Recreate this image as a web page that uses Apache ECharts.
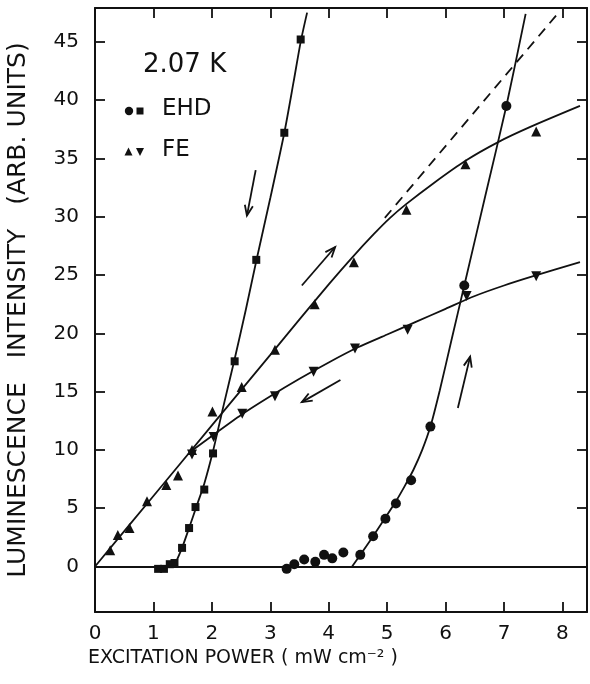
<!DOCTYPE html>
<html>
<head>
<meta charset="utf-8">
<script src="https://cdn.jsdelivr.net/npm/echarts@6/dist/echarts.min.js"></script>
<style>
html,body{margin:0;padding:0;background:#fff;}
#chart{width:590px;height:684px;}
</style>
</head>
<body>
<div id="chart"></div>
<script>
// ---- data ----
const xTicks = [0, 1, 2, 3, 4, 5, 6, 7, 8];
const yTicks = [0, 5, 10, 15, 20, 25, 30, 35, 40, 45];

// EHD, increasing power (circles)
const ehdUpPoints = [[3.28,-0.2],[3.41,0.2],[3.58,0.6],[3.77,0.4],[3.92,1.0],[4.06,0.7],[4.25,1.2],[4.54,1.0],[4.76,2.6],[4.97,4.1],[5.15,5.4],[5.41,7.4],[5.74,12.0],[6.32,24.1],[7.04,39.5]];
const ehdUpCurve = [[4.40,0],[4.54,1.0],[4.76,2.6],[4.97,4.2],[5.15,5.6],[5.30,6.9],[5.45,8.3],[5.60,10.0],[5.74,12.0],[5.90,15.1],[6.10,19.4],[6.32,24.1],[6.68,31.8],[7.04,39.5],[7.37,47.4]];

// EHD, decreasing power (squares)
const ehdDownPoints = [[1.08,-0.2],[1.18,-0.2],[1.28,0.2],[1.36,0.3],[1.49,1.6],[1.61,3.3],[1.72,5.1],[1.87,6.6],[2.02,9.7],[2.39,17.6],[2.76,26.3],[3.24,37.2],[3.52,45.2]];
const ehdDownCurve = [[1.37,0.2],[1.49,1.6],[1.61,3.3],[1.74,5.2],[1.87,7.1],[2.02,9.9],[2.20,13.8],[2.39,17.8],[2.58,22.0],[2.76,26.2],[3.00,31.6],[3.24,37.2],[3.40,41.6],[3.52,45.0],[3.63,47.5]];

// FE, increasing power (up triangles)
const feUpPoints = [[0.26,1.4],[0.39,2.7],[0.59,3.3],[0.89,5.6],[1.22,7.0],[1.42,7.8],[1.66,10.0],[2.01,13.3],[2.51,15.4],[3.08,18.6],[3.76,22.5],[4.43,26.1],[5.33,30.6],[6.34,34.5],[7.55,37.3]];
const feUpCurve = [[0,0],[1,6.05],[2,12.1],[3,18.15],[3.5,21.2],[4.0,24.2],[4.4,26.5],[4.77,28.5],[5.05,29.9],[5.33,31.1],[5.8,32.9],[6.34,34.8],[6.9,36.4],[7.45,37.7],[8.3,39.5]];
const feLinearExtension = [[4.96,29.9],[7.95,47.6]];

// FE, decreasing power (down triangles)
const feDownPoints = [[1.66,9.6],[2.03,11.1],[2.52,13.1],[3.08,14.6],[3.74,16.7],[4.45,18.7],[5.35,20.3],[6.36,23.2],[7.55,24.9]];
const feDownCurve = [[1.62,9.8],[2.0,11.2],[2.5,13.0],[3.0,14.6],[3.5,16.1],[4.0,17.5],[4.5,18.8],[5.0,19.9],[5.5,21.0],[6.0,22.1],[6.5,23.2],[7.0,24.1],[7.5,24.9],[8.3,26.1]];

// direction arrows [x1, y1, x2, y2]
const arrows = [[2.75,34.0,2.60,30.1],[3.54,24.1,4.11,27.4],[4.20,16.0,3.54,14.1],[6.21,13.6,6.42,18.0]];

const xName = 'EXCITATION POWER ( mW cm\u207B\u00B2 )';
const yName = 'LUMINESCENCE   INTENSITY   (ARB. UNITS)';
const tempLabel = '2.07 K';

// ---- chart ----
const FONT = 'DejaVu Sans';
const BLACK = '#111';
const chart = echarts.init(document.getElementById('chart'));

const curveStyle = {color: BLACK, width: 1.8};
function curve(data) {
  return {type: 'line', data: data, smooth: 0.25, showSymbol: false, symbol: 'none',
    lineStyle: curveStyle, silent: true, z: 3, animation: false};
}
function pts(data, symbol, size, rotate) {
  return {type: 'scatter', data: data, symbol: symbol, symbolSize: size, symbolRotate: rotate || 0,
    itemStyle: {color: BLACK, opacity: 1}, z: 4, animation: false};
}

const axisLineStyle = {color: BLACK, width: 2};
const tickStyle = {color: BLACK, width: 1.8};

chart.setOption({
  animation: false,
  backgroundColor: '#fff',
  grid: {left: 95, right: 3, top: 8, bottom: 72, containLabel: false, outerBoundsMode: 'none'},
  xAxis: [{
    type: 'value', min: 0, max: 8.42, position: 'bottom',
    axisLine: {show: true, onZero: false, lineStyle: axisLineStyle},
    axisTick: {show: true, inside: true, length: 10, customValues: xTicks, lineStyle: tickStyle},
    axisLabel: {show: true, customValues: xTicks, margin: 12, color: BLACK, fontFamily: FONT, fontSize: 20},
    splitLine: {show: false},
    name: xName, nameLocation: 'middle', nameGap: 33,
    nameTextStyle: {color: BLACK, fontFamily: FONT, fontSize: 19, padding: [0, 196, 0, 0]}
  }, {
    type: 'value', min: 0, max: 8.42, position: 'top',
    axisLine: {show: true, onZero: false, lineStyle: axisLineStyle},
    axisTick: {show: true, inside: true, length: 10, customValues: xTicks, lineStyle: tickStyle},
    axisLabel: {show: false},
    splitLine: {show: false}
  }],
  yAxis: [{
    type: 'value', min: -3.9, max: 47.9, position: 'left',
    axisLine: {show: true, onZero: false, lineStyle: axisLineStyle},
    axisTick: {show: true, inside: true, length: 10, customValues: yTicks, lineStyle: tickStyle},
    axisLabel: {show: true, customValues: yTicks, margin: 16, color: BLACK, fontFamily: FONT, fontSize: 20},
    splitLine: {show: false},
    name: yName, nameLocation: 'middle', nameGap: 64, nameRotate: 90,
    nameTextStyle: {color: BLACK, fontFamily: FONT, fontSize: 25}
  }, {
    type: 'value', min: -3.9, max: 47.9, position: 'right',
    axisLine: {show: true, onZero: false, lineStyle: axisLineStyle},
    axisTick: {show: true, inside: true, length: 10, customValues: yTicks, lineStyle: tickStyle},
    axisLabel: {show: false},
    splitLine: {show: false}
  }],
  series: [
    Object.assign(curve(ehdDownCurve), {
      markLine: {silent: true, symbol: 'none', label: {show: false},
        lineStyle: {color: BLACK, width: 1.8, type: 'solid'}, data: [{yAxis: 0}]}
    }),
    curve(ehdUpCurve),
    curve(feUpCurve),
    curve(feDownCurve),
    {type: 'line', data: feLinearExtension, showSymbol: false, symbol: 'none',
      lineStyle: {color: BLACK, width: 1.8, type: [10, 7]}, z: 3},
    pts(ehdUpPoints, 'circle', 10),
    pts(ehdDownPoints, 'rect', 8),
    pts(feUpPoints, 'triangle', 10),
    pts(feDownPoints, 'triangle', 10, 180),
    {
      type: 'custom', data: arrows, z: 5, silent: true,
      renderItem: function (params, api) {
        const p1 = api.coord([api.value(0), api.value(1)]);
        const p2 = api.coord([api.value(2), api.value(3)]);
        const ang = Math.atan2(p2[1] - p1[1], p2[0] - p1[0]);
        const L = 11, a = 0.38;
        const b1 = [p2[0] - L * Math.cos(ang - a), p2[1] - L * Math.sin(ang - a)];
        const b2 = [p2[0] - L * Math.cos(ang + a), p2[1] - L * Math.sin(ang + a)];
        const st = {stroke: BLACK, lineWidth: 1.8, fill: null};
        return {type: 'group', children: [
          {type: 'line', shape: {x1: p1[0], y1: p1[1], x2: p2[0], y2: p2[1]}, style: st},
          {type: 'polyline', shape: {points: [b1, p2, b2]}, style: st}
        ]};
      }
    }
  ],
  graphic: [
    {type: 'text', left: 143, top: 52, style: {text: tempLabel, font: '26px "DejaVu Sans"', fill: BLACK}},
    {type: 'circle', shape: {cx: 129, cy: 111, r: 4.2}, style: {fill: BLACK}},
    {type: 'rect', shape: {x: 136.5, y: 107.5, width: 7, height: 7}, style: {fill: BLACK}},
    {type: 'text', left: 162, top: 98, style: {text: 'EHD', font: '23px "DejaVu Sans"', fill: BLACK}},
    {type: 'polygon', shape: {points: [[128.5, 147.5], [124.5, 155.5], [132.5, 155.5]]}, style: {fill: BLACK}},
    {type: 'polygon', shape: {points: [[140, 156], [136, 148], [144, 148]]}, style: {fill: BLACK}},
    {type: 'text', left: 162, top: 139, style: {text: 'FE', font: '23px "DejaVu Sans"', fill: BLACK}}
  ]
});
</script>
</body>
</html>
